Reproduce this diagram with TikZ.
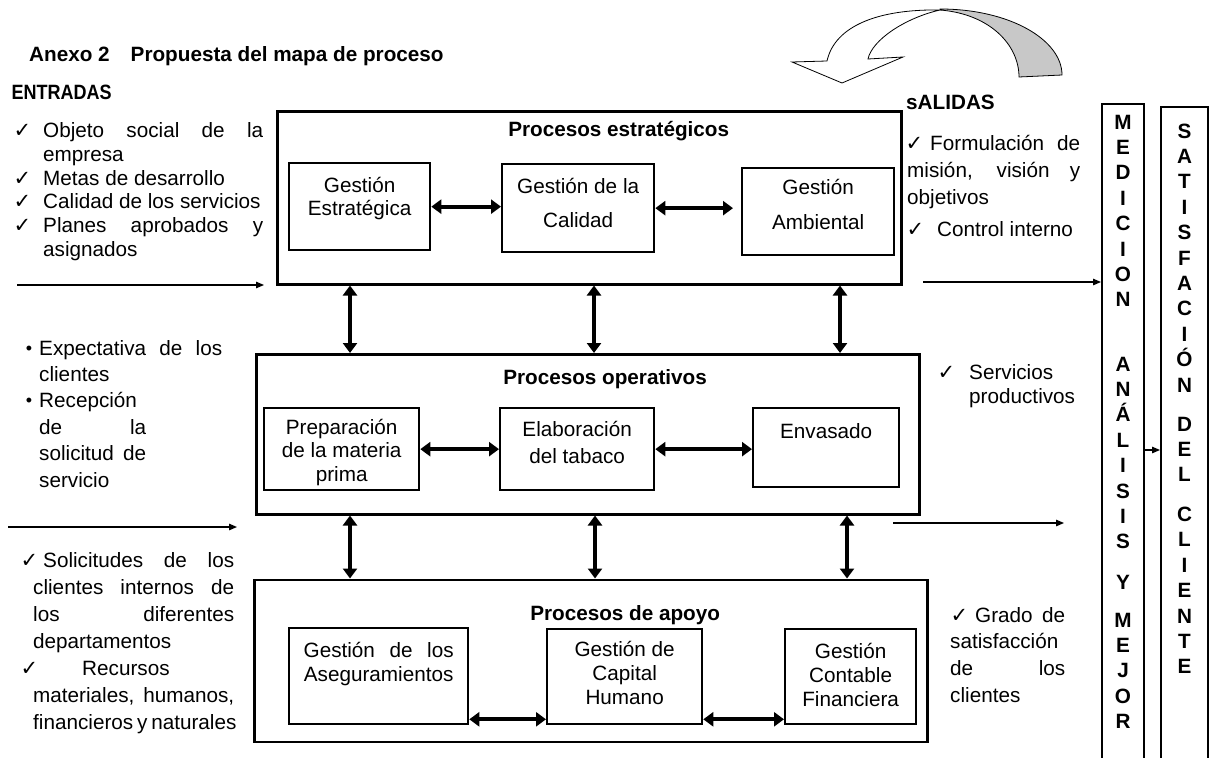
\documentclass[tikz,border=0pt]{standalone}
\usepackage{fontspec}
\usepackage{graphicx}
\setmainfont{Liberation Sans}
\newfontfamily\symfont{DejaVu Sans}
\usetikzlibrary{positioning, arrows.meta}
\definecolor{arcgray}{RGB}{200,200,200}
\newcommand{\mainsize}{\fontsize{20.7}{24}\selectfont}
\newcommand{\chk}[1][12pt]{\leavevmode\llap{{\symfont\fontsize{21}{21}\selectfont ✓}\hspace{#1}}}
\newcommand{\bul}{\leavevmode\llap{\raisebox{1pt}{\fontsize{18}{18}\selectfont •}\hspace{7pt}}}
\newcommand{\txtblock}[3]{\parbox[t]{#1}{\fontsize{20.7}{#2}\selectfont\raggedright #3}}
\newcommand{\boxtxt}[4]{\parbox[c][#2pt][t]{#1pt}{\centering\rule{0pt}{#3pt}#4}}
\newcommand{\bigtxt}[5]{\parbox[c][#2pt][t]{#1pt}{\rule{0pt}{#3pt}\hspace*{#4pt}\textbf{#5}}}
\tikzset{
  bigbox/.style = {draw, line width=2.5pt, inner sep=0pt, anchor=north west},
  procbox/.style = {draw, line width=2.3pt, inner sep=0pt, anchor=north west},
  sidebox/.style = {draw, line width=2pt, inner sep=0pt, anchor=north west,
                    font=\mainsize\bfseries},
  sidetext/.style = {anchor=base west, inner sep=0pt},
  headtext/.style = {anchor=base west, inner sep=0pt, font=\mainsize\bfseries},
  dblarrow/.style = {{Triangle[length=10pt,width=14pt]}-{Triangle[length=10pt,width=14pt]},
                     line width=4pt},
  flowarrow/.style = {-{Triangle[length=8pt,width=6.5pt]}, line width=1.3pt},
  curvearrow/.style = {draw=black, line width=0.8pt}
}

\begin{document}
\begin{tikzpicture}[x=1pt, y=-1pt, every node/.style={font=\mainsize}]
\useasboundingbox (0,0) rectangle (1209,757);
\clip (0,0) rectangle (1209,757);

\node[headtext] (title)  at (29,62)   {Anexo 2\hspace{21pt}Propuesta del mapa de proceso};
\node[headtext] (entlbl) at (11.5,100) {\scalebox{0.87}[1]{ENTRADAS}};
\node[headtext] (sallbl) at (906,110)  {sALIDAS};

\node[sidetext] (entr) at (43,138) {\txtblock{220pt}{23.6pt}{%
  \chk\makebox[220pt][s]{Objeto social de la}\\
  empresa\\
  \chk Metas de desarrollo\\
  \chk Calidad de los servicios\\
  \chk\makebox[220pt][s]{Planes aprobados y}\\
  asignados}};
\node[sidetext] (expc) at (39,355) {\txtblock{183pt}{26.4pt}{%
  \bul\makebox[183pt][s]{Expectativa de los}\\
  clientes\\
  \bul Recepción\\
  \makebox[107pt][s]{de la}\\
  \makebox[107pt][s]{solicitud de}\\
  servicio}};
\node[sidetext] (soli) at (33,567) {\txtblock{201pt}{27pt}{%
  \hspace*{10pt}\chk[5pt]\makebox[191pt][s]{Solicitudes de los}\\
  \makebox[201pt][s]{clientes internos de}\\
  \makebox[201pt][s]{los diferentes}\\
  departamentos\\
  \hspace*{49pt}\chk[44pt]Recursos\\
  \makebox[201pt][s]{materiales, humanos,}\\
  \makebox[201pt][s]{financieros y naturales}}};
\node[sidetext] (form) at (907,150) {\txtblock{173pt}{27pt}{%
  \hspace*{23pt}\chk[7pt]\makebox[150pt][s]{Formulación de}\\
  \makebox[173pt][s]{misión, visión y}\\
  objetivos\\[5pt]
  \hspace*{30pt}\chk[13pt]Control interno}};
\node[sidetext] (serv) at (969,379) {\txtblock{110pt}{24pt}{%
  \chk[14pt]Servicios\\
  productivos}};
\node[sidetext] (grad) at (950,622) {\txtblock{115pt}{26.7pt}{%
  \hspace*{25pt}\chk[7pt]\makebox[90pt][s]{Grado de}\\
  satisfacción\\
  \makebox[115pt][s]{de los}\\
  clientes}};

\node[bigbox] (estr) at (276,110.5) {\bigtxt{624}{172.5}{24.5}{231}{Procesos estratégicos}};
\node[bigbox] (oper) at (255,353)   {\bigtxt{663}{160}{30}{247}{Procesos operativos}};
\node[bigbox] (apoy) at (253,578.5) {\bigtxt{673}{162}{40.5}{276}{Procesos de apoyo}};

\node[procbox] (gest) at (288,162) {\boxtxt{141}{87}{29}{Gestión\\[-1pt]Estratégica}};
\node[procbox] (gcal) at (501,163) {\boxtxt{152}{88}{29}{Gestión de la\\[10pt]Calidad}};
\node[procbox] (gamb) at (741,167) {\boxtxt{152}{87}{26}{Gestión\\[11pt]Ambiental}};
\node[procbox] (prep) at (263,407) {\boxtxt{155}{82}{26}{Preparación\\[-0.5pt]de la materia\\[-0.5pt]prima}};
\node[procbox] (elab) at (499,407) {\boxtxt{154}{82}{28}{Elaboración\\[3pt]del tabaco}};
\node[procbox] (envs) at (752,407) {\boxtxt{146}{79}{30}{Envasado}};
\node[procbox] (aseg) at (288,627) {\boxtxt{179}{96}{29}{\makebox[150pt][s]{Gestión de los}\\Aseguramientos}};
\node[procbox] (capi) at (546,628) {\boxtxt{155}{95}{27}{Gestión de\\Capital\\Humano}};
\node[procbox] (cont) at (784,628) {\boxtxt{131}{95}{29}{Gestión\\Contable\\Financiera}};

\node[sidebox] (med) at (1101,103) {\parbox[c][700pt][t]{42pt}{\centering\fontsize{20.7}{25.4}\selectfont
  \rule{0pt}{25pt}M\\E\\D\\I\\C\\I\\O\\N\\[38.8pt]A\\N\\Á\\L\\I\\S\\I\\S\\[14.8pt]Y\\[12.6pt]M\\E\\J\\O\\R}};
\node[sidebox] (satis) at (1160,106) {\parbox[c][700pt][t]{47pt}{\centering\fontsize{20.7}{25.4}\selectfont
  \rule{0pt}{31pt}S\\A\\T\\I\\S\\F\\A\\C\\I\\Ó\\N\\[13.6pt]D\\E\\L\\[14.3pt]C\\L\\I\\E\\N\\T\\E}};

\draw[dblarrow] (gest.east) -- (gest.east -| gcal.west);
\draw[dblarrow, shorten >=8pt] (gcal.east) -- (gcal.east -| gamb.west);
\draw[dblarrow] (prep.east) -- (prep.east -| elab.west);
\draw[dblarrow] (elab.east) -- (elab.east -| envs.west);
\coordinate (pa) at ([yshift=6pt]aseg.south east);
\coordinate (pb) at ([yshift=6pt]capi.south east);
\draw[dblarrow] (pa) -- (pa -| capi.west);
\draw[dblarrow] (pb) -- (pb -| cont.west);

\draw[dblarrow] (estr.south -| 350,0) -- (oper.north -| 350,0);
\draw[dblarrow] (estr.south -| 594,0) -- (oper.north -| 594,0);
\draw[dblarrow] (estr.south -| 840,0) -- (oper.north -| 840,0);
\draw[dblarrow] (oper.south -| 350,0) -- (apoy.north -| 350,0);
\draw[dblarrow] (oper.south -| 595,0) -- (apoy.north -| 595,0);
\draw[dblarrow] (oper.south -| 847,0) -- (apoy.north -| 847,0);

\coordinate (in1) at (17,285);
\coordinate (in2) at (8,527);
\coordinate (out1) at (923,282);
\coordinate (out2) at (893,523);
\coordinate (mid) at (1143,450);
\draw[flowarrow, shorten >=12pt] (in1) -- (in1 -| estr.west);
\draw[flowarrow, shorten >=18pt] (in2) -- (in2 -| oper.west);
\draw[flowarrow] (out1) -- (out1 -| med.west);
\draw[flowarrow, shorten >=37pt] (out2) -- (out2 -| med.west);
\draw[flowarrow] (mid -| med.east) -- (mid -| satis.west);

\fill[arcgray, curvearrow] (940,9) .. controls (1010,9) and (1062,40) .. (1062,75)
  -- (1019,77) .. controls (1019,45) and (990,14) .. (940,10) -- cycle;
\fill[white, curvearrow] (827,61) -- (792,62) -- (842,83) -- (903,57) -- (868,59)
  .. controls (872,40) and (905,18) .. (940,10)
  .. controls (880,9) and (835,25) .. (827,61) -- cycle;
\end{tikzpicture}
\end{document}
